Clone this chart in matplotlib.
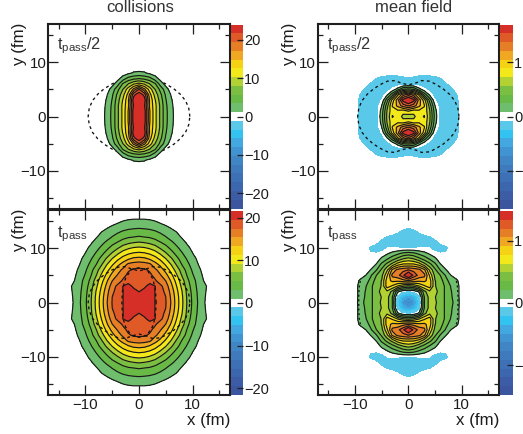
import numpy as np
import matplotlib
matplotlib.use("Agg")
import matplotlib.pyplot as plt
from matplotlib.colors import ListedColormap, BoundaryNorm
from matplotlib.cm import ScalarMappable

plt.rcParams['font.family'] = ['Liberation Sans', 'DejaVu Sans']
plt.rcParams['mathtext.fontset'] = 'custom'
plt.rcParams['mathtext.rm'] = 'Liberation Sans'
plt.rcParams['mathtext.default'] = 'rm'

W, H = 523, 434
TXT = '#1c1c1c'

# first-quadrant values, rows y = 0,1,2..., columns x = 0,1,2...
coll_half = [
    [24.5, 23.0, 15.0, 11.0, 7.5, 4.0, 2.0, 0],
    [24.5, 23.0, 15.0, 11.0, 7.5, 4.0, 1.9, 0],
    [23.5, 22.0, 14.5, 11.0, 7.5, 3.9, 1.7, 0],
    [24.0, 23.0, 14.5, 10.5, 7.0, 3.6, 1.4, 0],
    [23.5, 21.0, 13.5, 9.5, 6.3, 3.1, 1.0, 0],
    [19.5, 15.5, 11.5, 8.0, 5.0, 2.2, 0, 0],
    [11.0, 10.0, 8.0, 6.0, 2.4, 0.3, 0, 0],
    [5.5, 5.0, 4.2, 2.2, 0.3, 0, 0, 0],
    [1.6, 1.4, 0.6, 0, 0, 0, 0, 0],
    [0, 0, 0, 0, 0, 0, 0, 0],
]
mf_half = [
    [.62, .68, .85, .90, .60, .18, -.12, -.15, -.15, -.15, 0],
    [.90, .80, .85, .85, .58, .15, -.12, -.15, -.15, -.14, 0],
    [1.40, 1.30, 1.10, .90, .50, .08, -.13, -.15, -.15, -.13, 0],
    [1.80, 1.60, 1.15, .80, .35, -.05, -.14, -.15, -.15, -.12, 0],
    [1.30, 1.15, .85, .35, .05, -.12, -.15, -.15, -.14, -.09, 0],
    [.45, .40, .15, -.02, -.11, -.15, -.15, -.15, -.13, 0, 0],
    [-.10, -.12, -.14, -.15, -.15, -.15, -.15, -.10, 0, 0, 0],
    [-.10, -.11, -.15, -.16, -.15, -.12, -.085, 0, 0, 0, 0],
    [0, 0, 0, 0, 0, 0, 0, 0, 0, 0, 0],
]
coll_pass = [
    [21.5, 21.5, 21.0, 19.5, 18.4, 17.6, 15.3, 12.5, 9.8, 7.0, 4.8, 3.0, 1.45, .1],
    [21.5, 21.5, 21.0, 19.5, 18.4, 17.5, 15.1, 12.4, 9.7, 6.9, 4.7, 2.9, 1.5, .3],
    [19.5, 20.3, 20.8, 19.5, 18.2, 17.1, 14.7, 12.0, 9.4, 6.7, 4.5, 2.8, 1.6, .45],
    [18.9, 19.1, 20.3, 19.6, 18.0, 16.5, 14.0, 11.4, 8.8, 6.3, 4.2, 2.6, 1.7, .6],
    [18.6, 18.6, 18.7, 17.8, 16.4, 15.4, 13.1, 10.6, 8.2, 5.7, 3.9, 2.4, 1.1, 0],
    [18.4, 18.3, 18.0, 16.8, 15.6, 14.1, 11.9, 9.6, 7.1, 5.0, 3.3, 2.0, .8, 0],
    [17.9, 17.8, 17.2, 15.9, 14.5, 12.6, 10.6, 8.4, 6.3, 4.4, 2.8, 1.6, .5, 0],
    [16.5, 16.3, 15.9, 14.2, 12.8, 11.0, 9.2, 7.0, 5.1, 3.6, 2.3, 1.1, .2, 0],
    [14.1, 13.9, 13.2, 12.2, 10.9, 9.4, 7.6, 5.8, 4.3, 2.9, 1.8, .7, 0, 0],
    [11.8, 11.6, 11.1, 10.3, 9.0, 7.5, 6.0, 4.6, 3.3, 2.2, 1.1, .2, 0, 0],
    [9.7, 9.5, 9.0, 8.2, 7.0, 5.9, 4.7, 3.5, 2.5, 1.5, .6, 0, 0, 0],
    [7.4, 7.2, 6.8, 6.2, 5.3, 4.5, 3.5, 2.6, 1.7, .8, 0, 0, 0, 0],
    [5.4, 5.2, 5.0, 4.5, 3.9, 3.2, 2.4, 1.7, .9, .1, 0, 0, 0, 0],
    [3.9, 3.8, 3.6, 3.3, 2.8, 2.3, 1.7, 1.0, .2, 0, 0, 0, 0, 0],
    [2.6, 2.5, 2.4, 2.1, 1.7, 1.2, .6, 0, 0, 0, 0, 0, 0, 0],
    [1.5, 1.5, 1.3, 1.0, .5, 0, 0, 0, 0, 0, 0, 0, 0, 0],
    [0, 0, 0, 0, 0, 0, 0, 0, 0, 0, 0, 0, 0, 0],
]
mf_pass = [
    [-.70, -.55, -.18, .35, .55, .52, .42, .33, .25, .15, 0],
    [-.50, -.40, -.12, .35, .55, .50, .42, .33, .23, .14, 0],
    [-.05, -.03, .10, .45, .60, .55, .42, .33, .22, .14, 0],
    [.45, .50, .62, .75, .85, .50, .45, .32, .20, .14, 0],
    [1.05, 1.00, .95, .95, .85, .50, .42, .26, .15, .10, 0],
    [1.55, 1.30, 1.15, 1.10, .75, .45, .35, .20, .07, 0, 0],
    [1.20, 1.15, 1.10, .95, .60, .38, .20, .08, 0, 0, 0],
    [.80, .80, .72, .55, .40, .25, .08, 0, 0, 0, 0],
    [.55, .50, .40, .30, .20, .10, 0, 0, 0, 0, 0],
    [.28, .25, .18, .12, .05, 0, -.05, -.05, 0, 0, 0],
    [-.05, -.05, -.05, -.05, -.05, -.12, -.13, -.10, 0, 0, 0],
    [-.17, -.16, -.15, -.14, -.13, -.12, -.04, 0, 0, 0, 0],
    [-.18, -.15, -.13, -.09, -.08, -.02, 0, 0, 0, 0, 0],
    [-.20, -.10, -.05, -.03, 0, 0, 0, 0, 0, 0, 0],
    [0, 0, 0, 0, 0, 0, 0, 0, 0, 0, 0],
]

# outlines (first quadrant, mirrored when drawn)
lens_x = [9.5, 9.3, 8.7, 7.7, 6.5, 5.0, 3.9, 2.5, 1.5, 0.0]
lens_y = [0.0, 1.5, 2.9, 4.1, 5.1, 6.0, 6.5, 6.6, 6.2, 5.8]
core_x = [3.2, 3.1, 2.8, 2.5, 1.5, 0.0]
core_y = [0.0, 2.0, 3.5, 4.5, 6.0, 6.4]
edge_x = [9.3, 9.3, 9.2, 9.0]
edge_y = [0.0, 1.5, 3.0, 4.0]

band_colors = [
    '#3c559f', '#3c5ca6', '#3c66ae', '#3e70b6', '#3f7abd', '#4186c4',
    '#4094d1', '#42a8df', '#33c3f0', '#5ac8e8', '#ffffff',
    '#6fbe6e', '#69b947', '#7bbf42', '#b2d234', '#f2e81a', '#f6d214', '#f0a722',
    '#e67e25', '#df5a26', '#d52f27',
]

x_ticks_major = [-10, 0, 10]
x_ticks_minor = [-15, -5, 5, 15]
x_tick_labels = ['\u221210', '0', '10']
bar_ticks_coll = [-20, -10, 0, 10, 20]
bar_labels_coll = ['\u221220', '\u221210', '0', '10', '20']
bar_ticks_mf = [-1, 0, 1]
bar_labels_mf = ['\u22121', '0', '1']

fig = plt.figure(figsize=(W / 100, H / 100), dpi=100)


def axes_px(x0, x1, y0, y1):
    return fig.add_axes([x0 / W, 1 - y1 / H, (x1 - x0) / W, (y1 - y0) / H])


def mirror(q):
    q = np.array(q, float)
    q = np.concatenate([q[:0:-1], q], axis=0)
    return np.concatenate([q[:, :0:-1], q], axis=1)


def mirrored_axis(n):
    a = np.arange(n, dtype=float)
    return np.concatenate([-a[:0:-1], a])


def dashed(ax, xs, ys, z, closed=True):
    xs, ys = np.array(xs), np.array(ys)
    if closed:
        qx = np.concatenate([xs, -xs[::-1], -xs, xs[::-1]])
        qy = np.concatenate([ys, ys[::-1], -ys, -ys[::-1]])
        ax.plot(qx, qy, color='#111111', lw=0.95, ls=(0, (2.2, 2.4)), zorder=z)
    else:
        for sx in (1, -1):
            ax.plot(sx * np.concatenate([xs[::-1], xs]), np.concatenate([-ys[::-1], ys]),
                    color='#111111', lw=0.95, ls=(0, (1.5, 2.0)), zorder=z)


def panel(q, vmax, box, bar_box, bar_ticks, bar_labels, tag, tag_y, xlabels):
    ax = axes_px(*box)
    levels = np.linspace(-vmax, vmax, 22)
    z = mirror(q)
    X = mirrored_axis(z.shape[1] // 2 + 1)
    Y = mirrored_axis(z.shape[0] // 2 + 1)
    fill = list(band_colors)
    fill[10] = 'none'
    ax.contourf(X, Y, z, levels=levels, colors=fill + [band_colors[-1]], extend='max', zorder=2)
    ax.contour(X, Y, z, levels=levels[11:-1], colors='#1a1a1a', linewidths=0.85, zorder=3)
    ax.set_xlim(-17, 17)
    ax.set_ylim(-17, 17)
    for s in ax.spines.values():
        s.set_linewidth(1.5)
        s.set_color('#1f1f1f')
        s.set_zorder(6)
    ax.set_xticks(x_ticks_major)
    ax.set_yticks(x_ticks_major)
    ax.set_xticks(x_ticks_minor, minor=True)
    ax.set_yticks(x_ticks_minor, minor=True)
    ax.set_yticklabels(x_tick_labels)
    ax.set_xticklabels(x_tick_labels if xlabels else [])
    ax.tick_params(which='major', direction='in', length=7.5, width=0.9, top=True, right=True,
                   labelsize=10.8, pad=2, colors='#1f1f1f', labelcolor=TXT)
    ax.tick_params(which='minor', direction='in', length=3.6, width=0.9, top=True, right=True,
                   colors='#1f1f1f')
    ax.tick_params(axis='y', which='major', pad=1.2)
    ax.text(0.05, tag_y, tag, transform=ax.transAxes, fontsize=11.8, color='#333333', va='baseline', ha='left')
    fig.text((box[0] - 28) / W, 1 - (box[2] - 1) / H, 'y (fm)', rotation=90, ha='center', va='top',
             fontsize=12.2, color=TXT)
    if xlabels:
        fig.text(box[1] / W, 1 - 420 / H, 'x (fm)', ha='right', va='center', fontsize=12.2, color=TXT)

    cax = axes_px(*bar_box)
    sm = ScalarMappable(norm=BoundaryNorm(levels, 21), cmap=ListedColormap(band_colors))
    cb = fig.colorbar(sm, cax=cax, spacing='proportional', drawedges=False)
    cb.outline.set_visible(False)
    cb.minorticks_off()
    cb.set_ticks(bar_ticks)
    cb.set_ticklabels(bar_labels)
    cax.tick_params(direction='in', length=4.2, width=0.9, right=True, left=False, pad=1.2,
                    labelsize=10.5, colors='#1f1f1f', labelcolor=TXT)
    return ax


tag_half = '$\\mathrm{t_{pass}}$/2'
tag_full = '$\\mathrm{t_{pass}}$'
L = (48, 230)
R = (317.7, 499)
T = (24, 209)
B = (210, 395)

a = panel(coll_half, 24.0, (*L, *T), (230.8, 242.5, 24.5, 208.5), bar_ticks_coll, bar_labels_coll, tag_half, 0.865, False)
dashed(a, lens_x, lens_y, 1)
b = panel(mf_half, 1.7, (*R, *T), (500, 512.5, 24.5, 208.5), bar_ticks_mf, bar_labels_mf, tag_half, 0.865, False)
dashed(b, lens_x, lens_y, 4)
c = panel(coll_pass, 21.6, (*L, *B), (230.8, 242.5, 211, 395), bar_ticks_coll, bar_labels_coll, tag_full, 0.85, True)
dashed(c, lens_x, lens_y, 4)
dashed(c, core_x, core_y, 4)
d = panel(mf_pass, 1.48, (*R, *B), (500, 512.5, 211, 395), bar_ticks_mf, bar_labels_mf, tag_full, 0.85, True)
dashed(d, edge_x, edge_y, 4, closed=False)

fig.text(140 / W, 1 - 8 / H, 'collisions', ha='center', va='center', fontsize=12, color='#333333')
fig.text(414 / W, 1 - 8 / H, 'mean field', ha='center', va='center', fontsize=12, color='#333333')

fig.savefig('out.png', dpi=100)
